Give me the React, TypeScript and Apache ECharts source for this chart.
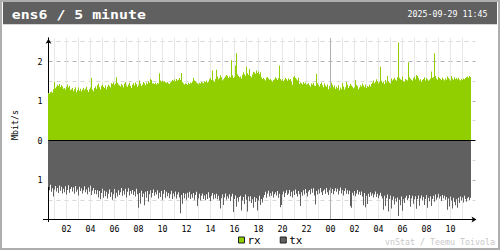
import React, { useEffect, useRef } from "react";
import * as echarts from "echarts";

// 5-minute samples, first sample at 00:30 on day 0, last at 11:40 on day 1
const START_MIN = 30;
const STEP_MIN = 5;
const TITLE = "ens6 / 5 minute";
const DATE_TEXT = "2025-09-29 11:45";
const UNIT = "Mbit/s";
const CREDIT = "vnStat / Teemu Toivola";
const SERIES_NAMES = ["rx", "tx"];
const Y_LABELS_AT = [2, 1, 0, -1];

// received, Mbit/s
const rx: number[] = [
  1.20,1.19,1.22,1.24,1.21,1.30,1.49,1.32,1.36,1.41,1.38,1.43,
  1.35,1.40,1.37,1.31,1.33,1.29,1.36,1.42,1.34,1.38,1.27,1.30,
  1.33,1.25,1.30,1.35,1.22,1.28,1.34,1.26,1.31,1.24,1.29,1.33,
  1.27,1.31,1.36,1.28,1.23,1.30,1.34,1.58,1.29,1.25,1.33,1.37,
  1.31,1.40,1.44,1.35,1.29,1.38,1.42,1.36,1.33,1.39,1.30,1.36,
  1.41,1.38,1.34,1.45,1.43,1.47,1.40,1.44,1.60,1.46,1.42,1.39,
  1.37,1.43,1.40,1.35,1.44,1.48,1.39,1.36,1.42,1.46,1.38,1.33,
  1.41,1.45,1.39,1.47,1.43,1.36,1.40,1.52,1.44,1.38,1.42,1.48,
  1.45,1.40,1.47,1.43,1.50,1.46,1.56,1.53,1.44,1.45,1.43,1.46,
  1.42,1.45,1.44,1.70,1.52,1.49,1.51,1.48,1.50,1.47,1.46,1.48,
  1.45,1.43,1.47,1.49,1.53,1.51,1.55,1.50,1.56,1.52,1.54,1.58,
  1.53,1.71,1.48,1.44,1.42,1.45,1.43,1.41,1.46,1.43,1.47,1.45,
  1.49,1.58,1.52,1.50,1.47,1.45,1.42,1.46,1.44,1.48,1.47,1.45,
  1.50,1.48,1.52,1.47,1.49,1.55,1.58,1.53,1.77,1.52,1.49,1.56,
  1.79,1.62,1.55,1.58,1.65,1.60,1.52,1.55,1.59,1.62,1.66,1.64,
  1.58,1.62,1.60,2.03,1.65,1.58,1.61,1.90,2.21,1.68,1.63,1.60,
  1.62,1.57,1.66,1.73,1.68,1.64,1.87,1.70,1.66,1.81,1.63,1.60,
  1.67,1.74,1.72,1.69,1.77,1.71,1.75,1.68,1.73,1.60,1.56,1.58,
  1.55,1.52,1.59,1.61,1.57,1.54,1.56,1.52,1.49,1.53,1.55,1.60,
  1.57,1.53,1.58,1.90,1.56,1.52,1.55,1.50,1.54,1.58,1.55,1.51,
  1.57,1.54,1.56,1.49,1.41,1.60,1.63,1.58,1.55,1.52,1.59,1.43,
  1.47,1.45,1.42,1.48,1.44,1.46,1.41,1.43,1.45,1.40,1.37,1.44,
  1.42,1.46,1.39,1.38,1.69,1.45,1.41,1.37,1.43,1.47,1.40,1.35,
  1.44,1.39,1.36,1.42,1.30,1.38,1.33,1.46,1.41,1.35,1.39,1.31,
  1.36,1.32,1.40,1.27,1.34,1.30,1.45,1.37,1.29,1.35,1.48,1.41,
  1.33,1.38,1.43,1.39,1.36,1.32,1.35,1.53,1.41,1.38,1.30,1.34,
  1.40,1.37,1.44,1.39,1.35,1.42,1.33,1.38,1.36,1.41,1.37,1.43,
  1.47,1.52,1.45,1.49,1.55,1.50,1.44,1.48,1.87,1.51,1.46,1.49,
  1.43,1.53,1.47,1.63,1.50,1.46,1.44,1.57,1.52,1.55,1.59,1.54,
  1.51,1.60,2.48,1.58,1.55,1.53,1.62,1.50,1.49,1.56,1.54,1.52,
  1.98,1.60,1.57,1.54,1.51,1.58,1.62,1.55,1.66,1.63,1.59,1.52,
  1.55,1.49,1.53,1.56,1.60,1.52,1.58,1.55,1.51,1.54,1.57,1.75,
  1.59,1.60,2.21,1.63,1.57,1.54,1.61,1.58,1.56,1.53,1.59,1.55,
  1.52,1.57,1.54,1.62,1.58,1.55,1.51,1.63,1.57,1.54,1.60,1.56,
  1.58,1.55,1.59,1.54,1.52,1.56,1.53,1.57,1.55,1.58,1.60,1.62,
  1.59,1.63,1.61,
];

// transmitted, Mbit/s
const tx: number[] = [
  1.18,1.26,1.12,1.30,1.21,1.42,1.24,1.15,1.29,1.20,1.33,1.14,
  1.27,1.17,1.34,1.22,1.31,1.16,1.37,1.25,1.13,1.32,1.23,1.18,
  1.29,1.19,1.35,1.15,1.30,1.24,1.39,1.17,1.28,1.21,1.34,1.26,
  1.16,1.31,1.24,1.36,1.19,1.30,1.14,1.38,1.27,1.20,1.35,1.25,
  1.36,1.26,1.44,1.28,1.49,1.33,1.22,1.45,1.27,1.41,1.30,1.47,
  1.35,1.24,1.43,1.31,1.50,1.36,1.23,1.46,1.32,1.42,1.26,1.38,
  1.31,1.20,1.40,1.27,1.37,1.22,1.44,1.30,1.21,1.39,1.28,1.35,
  1.25,1.38,1.29,1.42,1.22,1.36,1.70,1.33,1.60,1.27,1.43,1.34,
  1.64,1.30,1.45,1.28,1.55,1.36,1.26,1.44,1.33,1.24,1.40,1.31,
  1.37,1.26,1.47,1.32,1.43,1.28,1.50,1.35,1.25,1.45,1.30,1.41,
  1.33,1.46,1.36,1.27,1.48,1.34,1.42,1.29,1.47,1.37,1.31,1.44,
  1.84,1.38,1.60,1.33,1.46,1.35,1.50,1.32,1.45,1.30,1.48,1.36,
  1.45,1.33,1.50,1.38,1.30,1.66,1.47,1.35,1.52,1.40,1.34,1.48,
  1.39,1.51,1.36,1.48,1.31,1.45,1.53,1.40,1.33,1.49,1.37,1.46,
  1.35,1.49,1.40,1.52,1.72,1.46,1.36,1.63,1.44,1.34,1.50,1.41,
  1.47,1.36,1.53,1.42,1.35,1.81,1.48,1.39,1.68,1.45,1.55,1.43,
  1.40,1.77,1.52,1.43,1.61,1.37,1.50,1.80,1.42,1.54,1.41,1.58,
  1.49,1.70,1.43,1.56,1.46,1.77,1.52,1.40,1.63,1.48,1.57,1.44,
  1.38,1.30,1.45,1.34,1.27,1.42,1.33,1.40,1.29,1.44,1.36,1.31,
  1.39,1.28,1.45,1.35,1.69,1.63,1.37,1.29,1.43,1.33,1.26,1.38,
  1.34,1.25,1.41,1.30,1.44,1.27,1.38,1.24,1.35,1.42,1.28,1.36,
  1.66,1.31,1.40,1.26,1.37,1.23,1.33,1.42,1.29,1.25,1.36,1.22,
  1.32,1.21,1.39,1.62,1.28,1.37,1.24,1.34,1.20,1.31,1.38,1.27,
  1.24,1.35,1.20,1.31,1.38,1.26,1.19,1.33,1.23,1.36,1.28,1.21,
  1.30,1.22,1.37,1.27,1.19,1.34,1.25,1.39,1.28,1.21,1.35,1.26,
  1.36,1.27,1.66,1.70,1.32,1.39,1.28,1.41,1.34,1.25,1.37,1.30,
  1.38,1.29,1.42,1.64,1.33,1.69,1.40,1.61,1.35,1.43,1.31,1.40,
  1.34,1.44,1.37,1.29,1.43,1.35,1.46,1.39,1.32,1.41,1.47,1.75,
  1.40,1.66,1.46,1.37,1.80,1.48,1.39,1.72,1.50,1.42,1.62,1.47,
  1.55,1.44,1.91,1.50,1.64,1.42,1.78,1.49,1.58,1.45,1.40,1.51,
  1.46,1.38,1.68,1.47,1.40,1.60,1.49,1.41,1.73,1.48,1.39,1.65,
  1.47,1.39,1.52,1.43,1.63,1.48,1.38,1.70,1.45,1.54,1.41,1.66,
  1.48,1.40,1.55,1.37,1.50,1.44,1.35,1.47,1.41,1.53,1.38,1.46,
  1.40,1.50,1.43,1.75,1.47,1.67,1.42,1.52,1.72,1.45,1.56,1.64,
  1.49,1.70,1.45,1.58,1.42,1.52,1.44,1.57,1.40,1.48,1.55,1.46,
  1.43,1.51,1.45,
];

const PAD_SLOTS = 5; // empty slots after the last sample (axis runs on to the arrow)

const two = (n: number) => (n < 10 ? "0" + n : String(n));
const categories: string[] = [];
for (let i = 0; i < rx.length; i++) {
  const m = START_MIN + i * STEP_MIN;
  const day = Math.floor(m / 1440);
  const hh = Math.floor((m % 1440) / 60);
  const mm = m % 60;
  categories.push(day + "|" + two(hh) + ":" + two(mm));
}
for (let k = 0; k < PAD_SLOTS; k++) categories.push("pad" + k);

const isHour = (v: string) => /\|\d\d:00$/.test(v);
const hourOf = (v: string) => parseInt(v.split("|")[1].slice(0, 2), 10);
const isDayStart = (v: string) => /\|00:00$/.test(v);

const FONT = "DejaVu Sans Mono";

export default function App() {
  const ref = useRef<HTMLDivElement>(null);
  useEffect(() => {
    if (!ref.current) return;
    const chart = echarts.init(ref.current, undefined, { renderer: "svg" });

    const hourCats = categories.filter(isHour);
    const vColors = hourCats.map((c) => (isDayStart(c) ? "#b0b0b0" : "#e8e8e8"));

    const yTop = 2.6;
    const yMin = -2;
    const gridTop = 37.8;
    const gridH = 181.7;
    const gridLeft = 48.5;
    const gridW = categories.length - 1;

    // split line colours for ticks -2,-1.5,...,2.5,2.6
    const T = "rgba(0,0,0,0)";
    const L = "#d8d8d8";
    const D = "#b0b0b0";
    const hColors = [T, L, D, L, T, L, D, L, D, L, T];

    chart.setOption({
      animation: false,
      backgroundColor: "#ffffff",
      textStyle: { fontFamily: FONT },
      grid: {
        left: gridLeft,
        top: gridTop,
        width: gridW,
        height: gridH,
        containLabel: false,
        outerBoundsMode: "none",
      },
      legend: {
        data: SERIES_NAMES,
        left: 238,
        top: 234.5,
        padding: 0,
        itemWidth: 6,
        itemHeight: 6,
        itemGap: 19,
        icon: "rect",
        selectedMode: false,
        itemStyle: { borderColor: "#202020", borderWidth: 1 },
        textStyle: { fontFamily: FONT, fontSize: 11, color: "#000", padding: [0, 0, 0, -2] },
      },
      xAxis: {
        type: "category",
        data: categories,
        boundaryGap: false,
        axisLine: {
          show: true,
          onZero: false,
          lineStyle: { color: "#000", width: 1 },
          symbol: ["none", "arrow"],
          symbolSize: [4.5, 5],
          symbolOffset: [0, 1],
        },
        axisTick: { show: false },
        axisLabel: {
          show: true,
          interval: (_i: number, v: string) => isHour(v) && hourOf(v) % 2 === 0,
          formatter: (v: string) => two(hourOf(v)),
          color: "#000",
          fontFamily: FONT,
          fontSize: 8.3,
          margin: 5,
        },
        splitLine: {
          show: true,
          interval: (_i: number, v: string) => isHour(v),
          lineStyle: { color: vColors, width: 1, type: "solid" },
        },
      },
      yAxis: {
        type: "value",
        min: yMin,
        max: yTop,
        interval: 0.5,
        axisLine: {
          show: true,
          onZero: false,
          lineStyle: { color: "#000", width: 1 },
          symbol: ["none", "arrow"],
          symbolSize: [4.5, 5],
          symbolOffset: [0, -1],
        },
        axisTick: { show: false },
        axisLabel: {
          show: true,
          color: "#000",
          fontFamily: FONT,
          fontSize: 8.3,
          margin: 6,
          formatter: (v: number) => {
            const r = Math.round(v);
            if (Math.abs(v - r) > 1e-6) return "";
            if (Y_LABELS_AT.indexOf(r) < 0) return "";
            return String(Math.abs(r));
          },
        },
        splitLine: {
          show: true,
          lineStyle: { color: hColors, width: 1, type: [4, 4] },
        },
      },
      series: [
        {
          name: "rx",
          type: "bar",
          data: rx,
          barWidth: 1,
          barGap: "-100%",
          barCategoryGap: "0%",
          itemStyle: { color: "#92cf00" },
          emphasis: { disabled: true },
          silent: true,
          markLine: {
            silent: true,
            symbol: ["none", "none"],
            label: { show: false },
            lineStyle: { color: "#000", type: "solid", width: 1 },
            data: [{ yAxis: 0 }],
          },
        },
        {
          name: "tx",
          type: "bar",
          data: tx.map((v) => -v),
          barWidth: 1,
          barGap: "-100%",
          barCategoryGap: "0%",
          itemStyle: { color: "#606060" },
          emphasis: { disabled: true },
          silent: true,
        },
      ],
      graphic: [
        {
          type: "rect",
          silent: true,
          shape: { x: 1, y: 1, width: 498, height: 248 },
          style: { fill: "none", stroke: "#aeaeae", lineWidth: 2 },
        },
        {
          type: "rect",
          silent: true,
          shape: { x: 3, y: 2, width: 494, height: 22.3 },
          style: { fill: "#606060" },
        },
        {
          type: "text",
          silent: true,
          x: 11.7,
          y: 14.8,
          scaleX: 1.19,
          style: {
            text: TITLE,
            fontFamily: FONT,
            fontSize: 12.5,
            fontWeight: "bold",
            fill: "#ffffff",
            align: "left",
            verticalAlign: "middle",
          },
        },
        {
          type: "text",
          silent: true,
          x: 487.5,
          y: 14.4,
          style: {
            text: DATE_TEXT,
            fontFamily: FONT,
            fontSize: 8.3,
            fill: "#ffffff",
            align: "right",
            verticalAlign: "middle",
          },
        },
        {
          type: "text",
          silent: true,
          x: 14.5,
          y: 125,
          rotation: Math.PI / 2,
          style: {
            text: UNIT,
            fontFamily: FONT,
            fontSize: 8.3,
            fill: "#000",
            align: "center",
            verticalAlign: "middle",
          },
        },
        {
          type: "text",
          silent: true,
          x: 495,
          y: 241.8,
          style: {
            text: CREDIT,
            fontFamily: FONT,
            fontSize: 8.3,
            fill: "#c8c8c8",
            align: "right",
            verticalAlign: "middle",
          },
        },
        {
          type: "line",
          silent: true,
          shape: { x1: 43, y1: 219.5, x2: 48.5, y2: 219.5 },
          style: { stroke: "#000", lineWidth: 1 },
        },
        {
          type: "line",
          silent: true,
          shape: { x1: 48.5, y1: 219.5, x2: 48.5, y2: 222 },
          style: { stroke: "#000", lineWidth: 1 },
        },
      ],
    });
    return () => chart.dispose();
  }, []);
  return (
    <div
      ref={ref}
      style={{ position: "fixed", left: 0, top: 0, width: 500, height: 250 }}
    />
  );
}
